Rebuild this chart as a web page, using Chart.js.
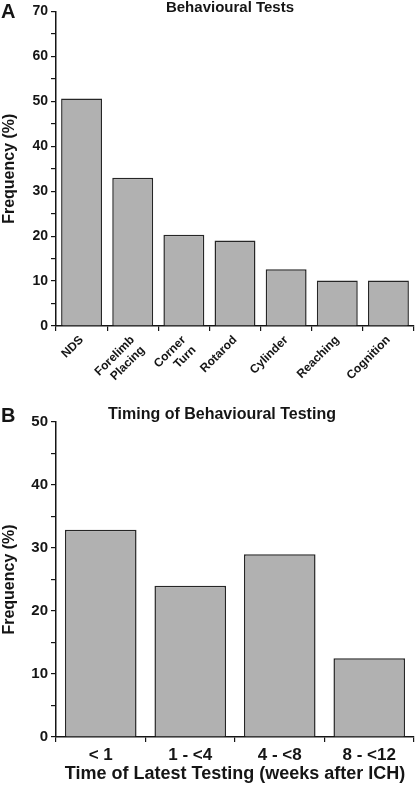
<!DOCTYPE html>
<html>
<head>
<meta charset="utf-8">
<script src="https://cdn.jsdelivr.net/npm/chart.js@4/dist/chart.umd.min.js"></script>
<style>
  html, body { margin: 0; padding: 0; background: #fff; }
  body { width: 415px; height: 786px; position: relative; overflow: hidden; }
  .panel { position: absolute; left: 0; }
  #panelA { top: 0; width: 415px; height: 390px; }
  #panelB { top: 390px; width: 415px; height: 396px; }
</style>
</head>
<body>
<div class="panel" id="panelA"><canvas id="chartA" width="415" height="390"></canvas></div>
<div class="panel" id="panelB"><canvas id="chartB" width="415" height="396"></canvas></div>
<script>
// Panel A - behavioural tests
const testLabels = ['NDS', ['Forelimb', 'Placing'], ['Corner', 'Turn'], 'Rotarod', 'Cylinder', 'Reaching', 'Cognition'];
const testFreq = [50.6, 33.0, 20.3, 19.0, 12.6, 10.1, 10.1];

// Panel B - timing of latest testing
const timingLabels = ['< 1', '1 - <4', '4 - <8', '8 - <12'];
const timingFreq = [32.9, 24.0, 29.0, 12.5];

const FONT = "'Liberation Sans', Arial, sans-serif";
const BAR_FILL = '#b1b1b1';
const INK = '#151515';

Chart.defaults.font.family = FONT;
Chart.defaults.color = INK;

// draws the panel letter and the chart heading
const panelText = {
  id: 'panelText',
  afterDraw(chart, args, opts) {
    const ctx = chart.ctx;
    ctx.save();
    ctx.fillStyle = INK;
    ctx.textBaseline = 'middle';
    ctx.font = 'bold 20px ' + FONT;
    ctx.textAlign = 'left';
    ctx.fillText(opts.letter, 1, opts.letterY);
    ctx.font = 'bold ' + opts.titleSize + 'px ' + FONT;
    ctx.textAlign = 'center';
    ctx.fillText(opts.title, opts.titleX, opts.titleY);
    ctx.restore();
  }
};

function yAxis(max, fontSize, titleSize) {
  return {
    min: 0,
    max: max,
    border: { display: true, color: INK, width: 1.5 },
    grid: { drawOnChartArea: false, drawTicks: true, tickLength: 5, color: INK, lineWidth: 1.2 },
    ticks: {
      stepSize: 5,
      padding: 3,
      color: INK,
      font: { size: fontSize, weight: 'bold' },
      callback: v => (v % 10 === 0 ? v : '')
    },
    title: { display: true, text: 'Frequency (%)', color: INK, font: { size: titleSize, weight: 'bold' }, padding: { top: 0, bottom: 0 } },
    afterFit(scale) { scale.width = 56; }
  };
}

function barDataset(values) {
  return {
    data: values,
    backgroundColor: BAR_FILL,
    borderColor: '#262626',
    borderWidth: 1.5,
    barPercentage: 0.8,
    categoryPercentage: 1.0
  };
}

new Chart(document.getElementById('chartA').getContext('2d'), {
  type: 'bar',
  data: { labels: testLabels, datasets: [barDataset(testFreq)] },
  plugins: [panelText],
  options: {
    responsive: false,
    animation: false,
    layout: { padding: { top: 10, right: 1, left: 0, bottom: 0 } },
    scales: {
      x: {
        border: { display: true, color: INK, width: 1.5 },
        grid: { offset: true, drawOnChartArea: false, tickLength: 5, color: INK, lineWidth: 1.2 },
        ticks: { minRotation: 45, maxRotation: 45, padding: 2, color: INK, font: { size: 12, weight: 'bold' } },
        afterFit(scale) { scale.height = 64; }
      },
      y: yAxis(70, 14, 16)
    },
    plugins: {
      legend: { display: false },
      tooltip: { enabled: false },
      panelText: { letter: 'A', letterY: 12, title: 'Behavioural Tests', titleSize: 15, titleX: 230, titleY: 8 }
    }
  }
});

new Chart(document.getElementById('chartB').getContext('2d'), {
  type: 'bar',
  data: { labels: timingLabels, datasets: [barDataset(timingFreq)] },
  plugins: [panelText],
  options: {
    responsive: false,
    animation: false,
    layout: { padding: { top: 32, right: 1, left: 0, bottom: 0 } },
    scales: {
      x: {
        border: { display: true, color: INK, width: 1.5 },
        grid: { offset: true, drawOnChartArea: false, tickLength: 5, color: INK, lineWidth: 1.2 },
        ticks: { maxRotation: 0, padding: 3, color: INK, font: { size: 17, weight: 'bold' } },
        title: { display: true, text: 'Time of Latest Testing (weeks after ICH)', color: INK, font: { size: 18, weight: 'bold' }, padding: { top: 0, bottom: 1 } },
        afterFit(scale) { scale.height = 49; }
      },
      y: yAxis(50, 15, 16)
    },
    plugins: {
      legend: { display: false },
      tooltip: { enabled: false },
      panelText: { letter: 'B', letterY: 26, title: 'Timing of Behavioural Testing', titleSize: 16, titleX: 222, titleY: 25 }
    }
  }
});
</script>
</body>
</html>
